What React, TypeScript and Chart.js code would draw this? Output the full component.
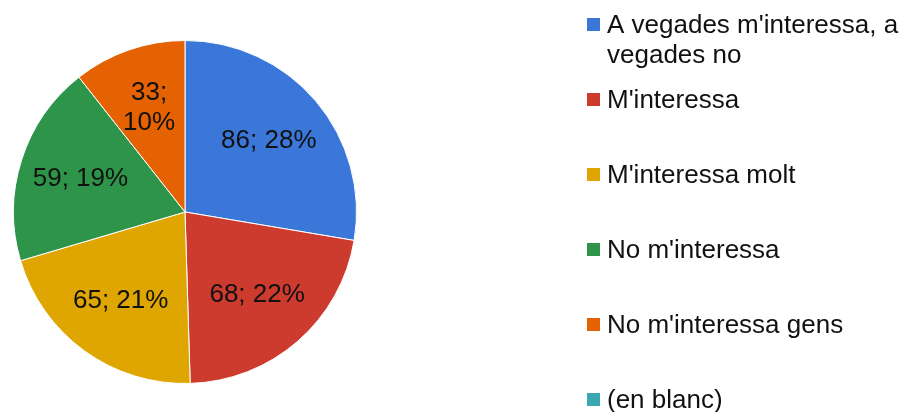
import React, { useEffect, useRef } from "react";
import { Chart, registerables } from "chart.js";

Chart.register(...registerables);

const categories = [
  "A vegades m'interessa, a vegades no",
  "M'interessa",
  "M'interessa molt",
  "No m'interessa",
  "No m'interessa gens",
  "(en blanc)",
];
const counts = [86, 68, 65, 59, 33, 0];
const percents = [28, 22, 21, 19, 10, 0];
const colors = ["#3a77d9", "#cd3b2f", "#dfa500", "#2e9449", "#e56203", "#3ba7b1"];

const FONT = '"Liberation Sans", Arial, sans-serif';

const sliceLabels = {
  id: "sliceLabels",
  afterDatasetsDraw(chart: any) {
    const ctx = chart.ctx;
    const meta = chart.getDatasetMeta(0);
    ctx.save();
    ctx.font = `26px ${FONT}`;
    ctx.fillStyle = "#111111";
    ctx.textAlign = "center";
    ctx.textBaseline = "middle";
    meta.data.forEach((arc: any, i: number) => {
      if (!counts[i]) return;
      const p = arc.getProps(["startAngle", "endAngle", "outerRadius", "x", "y"], true);
      const mid = (p.startAngle + p.endAngle) / 2;
      const r = p.outerRadius * 0.64;
      const cx = p.x + Math.cos(mid) * r;
      const cy = p.y + Math.sin(mid) * r;
      const text = `${counts[i]}; ${percents[i]}%`;
      const span = (p.endAngle - p.startAngle) * r;
      const lines = ctx.measureText(text).width > span ? text.split(" ") : [text];
      const lh = 30;
      lines.forEach((ln: string, k: number) => {
        ctx.fillText(ln, cx, cy + (k - (lines.length - 1) / 2) * lh);
      });
    });
    ctx.restore();
  },
};

const sideLegend = {
  id: "sideLegend",
  afterDraw(chart: any) {
    const ctx = chart.ctx;
    ctx.save();
    ctx.font = `26px ${FONT}`;
    ctx.textAlign = "left";
    ctx.textBaseline = "alphabetic";
    const x0 = 587;
    const tx = 607;
    const maxW = 303;
    categories.forEach((label, i) => {
      const base = 33 + 75 * i;
      ctx.fillStyle = colors[i];
      ctx.fillRect(x0, base - 15, 13, 13);
      ctx.fillStyle = "#111111";
      const words = label.split(" ");
      const lines: string[] = [];
      let cur = "";
      words.forEach((w) => {
        const t = cur ? cur + " " + w : w;
        if (ctx.measureText(t).width > maxW && cur) {
          lines.push(cur);
          cur = w;
        } else cur = t;
      });
      if (cur) lines.push(cur);
      lines.forEach((ln, k) => ctx.fillText(ln, tx, base + k * 30));
    });
    ctx.restore();
  },
};

export default function App() {
  const ref = useRef<HTMLCanvasElement>(null);
  useEffect(() => {
    if (!ref.current) return;
    const chart = new Chart(ref.current, {
      type: "pie",
      data: {
        labels: categories,
        datasets: [
          {
            data: counts,
            backgroundColor: colors,
            borderColor: "#ffffff",
            borderWidth: 1,
          },
        ],
      },
      options: {
        responsive: false,
        animation: false,
        layout: { padding: { left: 13, top: 40, right: 553, bottom: 28 } },
        plugins: {
          legend: { display: false },
          tooltip: { enabled: false },
        },
      },
      plugins: [sliceLabels, sideLegend],
    });
    return () => chart.destroy();
  }, []);
  return (
    <div style={{ position: "absolute", left: 0, top: 0, width: 910, height: 412, background: "#fff" }}>
      <canvas ref={ref} width={910} height={412} />
    </div>
  );
}
